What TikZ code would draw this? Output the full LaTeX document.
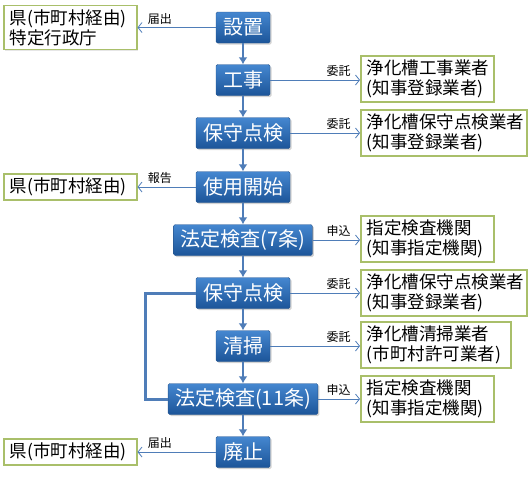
\documentclass[tikz,border=0pt]{standalone}
\usepackage{fontspec}
\setmainfont{Noto Sans CJK JP}
\usetikzlibrary{arrows.meta,shadows}
\definecolor{stagetop}{HTML}{4587D0}
\definecolor{stagebottom}{HTML}{1C5599}
\definecolor{stageedge}{HTML}{27568F}
\definecolor{flowblue}{HTML}{4F7DB8}
\definecolor{officeedge}{HTML}{A9BF6A}
\begin{document}
\begin{tikzpicture}[x=1pt,y=-1pt,
  stage/.style={draw=stageedge,top color=stagetop,bottom color=stagebottom,rounded corners=1.5pt,text=white,font=\fontsize{20pt}{22pt}\selectfont,minimum height=31pt,inner xsep=7pt,drop shadow={shadow xshift=1.5pt,shadow yshift=-1.5pt,opacity=0.35}},
  office/.style={draw=officeedge,line width=1.5pt,fill=white,align=left,anchor=west,text width=#1,font=\fontsize{17.5pt}{20pt}\selectfont,inner xsep=6pt,inner ysep=4pt,drop shadow={shadow xshift=1pt,shadow yshift=-1pt,opacity=0.2}},
  flow/.style={draw=flowblue,line width=2.5pt,-{Latex[length=7pt,width=9pt]}},
  notice/.style={draw=flowblue,line width=0.8pt,-{Straight Barb[length=4pt,width=10pt]}},
  loopline/.style={draw=flowblue,line width=3pt},
  tag/.style={font=\fontsize{12pt}{13pt}\selectfont,inner sep=1pt}]
\useasboundingbox (0,0) rectangle (530,480);
\node[stage] (install) at (243,27.5) {設置};
\node[stage] (works) at (243,80) {工事};
\node[stage] (maint) at (243,133) {保守点検};
\node[stage] (start) at (243,187) {使用開始};
\node[stage] (insp7) at (243,240) {法定検査(7条)};
\node[stage] (maint2) at (243,293) {保守点検};
\node[stage] (clean) at (243,346) {清掃};
\node[stage] (insp11) at (243,399) {法定検査(11条)};
\node[stage] (abolish) at (243,452) {廃止};
\node[office=121pt] (pref1) at (3,27.5) {県(市町村経由)\\特定行政庁};
\node[office=121pt] (pref2) at (3,187) {県(市町村経由)};
\node[office=121pt] (pref3) at (3,452) {県(市町村経由)};
\node[office=121pt] (builder) at (360,79) {浄化槽工事業者\\(知事登録業者)};
\node[office=154pt] (keeper1) at (360,133) {浄化槽保守点検業者\\(知事登録業者)};
\node[office=121pt] (agency1) at (360,239) {指定検査機関\\(知事指定機関)};
\node[office=154pt] (keeper2) at (360,293) {浄化槽保守点検業者\\(知事登録業者)};
\node[office=138pt] (cleaner) at (360,345) {浄化槽清掃業者\\(市町村許可業者)};
\node[office=121pt] (agency2) at (360,399) {指定検査機関\\(知事指定機関)};
\draw[flow] (install) -- (works);
\draw[flow] (works) -- (maint);
\draw[flow] (maint) -- (start);
\draw[flow] (start) -- (insp7);
\draw[flow] (insp7) -- (maint2);
\draw[flow] (maint2) -- (clean);
\draw[flow] (clean) -- (insp11);
\draw[flow] (insp11) -- (abolish);
\draw[loopline] (insp11.west) -- ++(-22,0) |- (maint2.west);
\draw[notice] (install.west) -- (install.west -| pref1.east) node[tag,pos=1,anchor=south west,xshift=9pt,yshift=2pt] {届出};
\draw[notice] (start.west) -- (start.west -| pref2.east) node[tag,pos=1,anchor=south west,xshift=9pt,yshift=2pt] {報告};
\draw[notice] (abolish.west) -- (abolish.west -| pref3.east) node[tag,pos=1,anchor=south west,xshift=9pt,yshift=2pt] {届出};
\draw[notice] (works.east) -- (works.east -| builder.west) node[tag,pos=1,anchor=south east,xshift=-8pt,yshift=2pt] {委託};
\draw[notice] (maint.east) -- (maint.east -| keeper1.west) node[tag,pos=1,anchor=south east,xshift=-8pt,yshift=2pt] {委託};
\draw[notice] (insp7.east) -- (insp7.east -| agency1.west) node[tag,pos=1,anchor=south east,xshift=-8pt,yshift=2pt] {申込};
\draw[notice] (maint2.east) -- (maint2.east -| keeper2.west) node[tag,pos=1,anchor=south east,xshift=-8pt,yshift=2pt] {委託};
\draw[notice] (clean.east) -- (clean.east -| cleaner.west) node[tag,pos=1,anchor=south east,xshift=-8pt,yshift=2pt] {委託};
\draw[notice] (insp11.east) -- (insp11.east -| agency2.west) node[tag,pos=1,anchor=south east,xshift=-8pt,yshift=2pt] {申込};
\end{tikzpicture}
\end{document}
